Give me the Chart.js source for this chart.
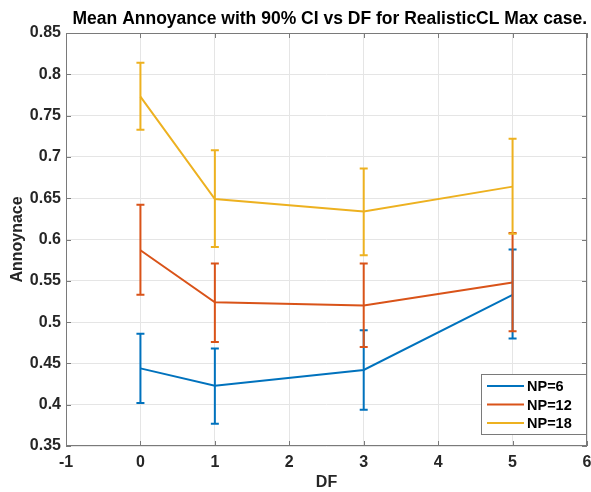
<!DOCTYPE html>
<html>
<head>
<meta charset="utf-8">
<script src="https://cdn.jsdelivr.net/npm/chart.js@4.4.1/dist/chart.umd.min.js"></script>
<style>
  html, body { margin: 0; padding: 0; background: #fff; }
  #wrap { width: 591px; height: 492px; }
</style>
</head>
<body>
<div id="wrap"><canvas id="c" width="591" height="492"></canvas></div>
<script>
// x positions (DF)
var dfValues = [0, 1, 3, 5];

// mean annoyance per series
var labels = ['NP=6', 'NP=12', 'NP=18'];
var meanNP6  = [0.444, 0.423, 0.442, 0.533];
var meanNP12 = [0.587, 0.524, 0.520, 0.548];
var meanNP18 = [0.773, 0.649, 0.634, 0.664];

// 90% CI bounds
var lowNP6   = [0.402, 0.377, 0.394, 0.480];
var highNP6  = [0.486, 0.468, 0.490, 0.588];
var lowNP12  = [0.533, 0.476, 0.470, 0.489];
var highNP12 = [0.642, 0.571, 0.571, 0.608];
var lowNP18  = [0.733, 0.591, 0.581, 0.607];
var highNP18 = [0.814, 0.708, 0.686, 0.722];

var xTicks = [-1, 0, 1, 2, 3, 4, 5, 6];
var yTicks = [0.35, 0.4, 0.45, 0.5, 0.55, 0.6, 0.65, 0.7, 0.75, 0.8, 0.85];

var colors = ['#0072BD', '#D95319', '#EDB120'];
var FONT = '"Liberation Sans", Arial, Helvetica, sans-serif';

var means = [meanNP6, meanNP12, meanNP18];
var lows = [lowNP6, lowNP12, lowNP18];
var highs = [highNP6, highNP12, highNP18];

function pts(arr) {
  return dfValues.map(function (x, i) { return { x: x, y: arr[i] }; });
}

var datasets = labels.map(function (lab, k) {
  return {
    label: lab,
    data: pts(means[k]),
    borderColor: colors[k],
    backgroundColor: colors[k],
    borderWidth: 2,
    pointRadius: 0,
    showLine: true,
    tension: 0
  };
});

// error bars + inward ticks + box + legend, MATLAB style
var matlabBits = {
  id: 'matlabBits',
  afterDatasetsDraw: function (chart) {
    var ctx = chart.ctx, x = chart.scales.x, y = chart.scales.y;
    ctx.save();
    ctx.lineWidth = 2;
    for (var k = 0; k < labels.length; k++) {
      ctx.strokeStyle = colors[k];
      for (var i = 0; i < dfValues.length; i++) {
        var px = x.getPixelForValue(dfValues[i]);
        var pl = y.getPixelForValue(lows[k][i]);
        var ph = y.getPixelForValue(highs[k][i]);
        ctx.beginPath();
        ctx.moveTo(px, pl); ctx.lineTo(px, ph);
        ctx.moveTo(px - 4, pl); ctx.lineTo(px + 4, pl);
        ctx.moveTo(px - 4, ph); ctx.lineTo(px + 4, ph);
        ctx.stroke();
      }
    }
    ctx.restore();
  },
  afterDraw: function (chart) {
    var ctx = chart.ctx, a = chart.chartArea, x = chart.scales.x, y = chart.scales.y;
    ctx.save();
    // box
    ctx.strokeStyle = '#7a7a7a';
    ctx.lineWidth = 1;
    ctx.strokeRect(a.left + 0.5, a.top + 0.5, a.right - a.left - 1, a.bottom - a.top - 1);
    // inward ticks
    ctx.beginPath();
    xTicks.forEach(function (v) {
      var p = Math.round(x.getPixelForValue(v)) + 0.5;
      ctx.moveTo(p, a.bottom); ctx.lineTo(p, a.bottom - 5);
      ctx.moveTo(p, a.top); ctx.lineTo(p, a.top + 5);
    });
    yTicks.forEach(function (v) {
      var p = Math.round(y.getPixelForValue(v)) + 0.5;
      ctx.moveTo(a.left, p); ctx.lineTo(a.left + 5, p);
      ctx.moveTo(a.right, p); ctx.lineTo(a.right - 5, p);
    });
    ctx.stroke();

    // legend
    var lx = 481, ly = 374, lw = 105, lh = 60;
    ctx.fillStyle = '#fff';
    ctx.fillRect(lx, ly, lw, lh);
    ctx.strokeStyle = '#7a7a7a';
    ctx.strokeRect(lx + 0.5, ly + 0.5, lw, lh);
    ctx.font = 'bold 14.5px ' + FONT;
    ctx.textBaseline = 'middle';
    ctx.textAlign = 'left';
    for (var k = 0; k < labels.length; k++) {
      var ry = ly + 12 + k * 18.5;
      ctx.strokeStyle = colors[k];
      ctx.lineWidth = 2;
      ctx.beginPath();
      ctx.moveTo(487, ry); ctx.lineTo(524, ry);
      ctx.stroke();
      ctx.fillStyle = '#000';
      ctx.fillText(labels[k], 527, ry + 1);
    }
    ctx.restore();
  }
};

new Chart(document.getElementById('c'), {
  type: 'scatter',
  data: { datasets: datasets },
  options: {
    responsive: false,
    animation: false,
    layout: { padding: { right: 4, left: 0, bottom: 0 } },
    plugins: {
      legend: { display: false },
      tooltip: { enabled: false },
      title: {
        display: true,
        align: 'end',
        text: 'Mean Annoyance with 90% CI vs DF for RealisticCL Max case.',
        color: '#000',
        font: { family: FONT, size: 17.5, weight: 'bold' },
        padding: { top: 9, bottom: 3 }
      }
    },
    scales: {
      x: {
        type: 'linear',
        min: -1, max: 6,
        afterBuildTicks: function (s) { s.ticks = xTicks.map(function (v) { return { value: v }; }); },
        afterFit: function (s) { s.height = 46; s.paddingLeft = 0; s.paddingRight = 0; },
        grid: { color: '#e5e5e5', drawTicks: false, tickLength: 0 },
        border: { display: false },
        ticks: { color: '#262626', padding: 7, font: { family: FONT, size: 16, weight: 'bold' } },
        title: { display: true, text: 'DF', color: '#262626', padding: { top: 1, bottom: 0 },
                 font: { family: FONT, size: 16, weight: 'bold' } }
      },
      y: {
        type: 'linear',
        min: 0.35, max: 0.85,
        afterBuildTicks: function (s) { s.ticks = yTicks.map(function (v) { return { value: v }; }); },
        afterFit: function (s) { s.width = 66; s.paddingTop = 0; s.paddingBottom = 0; },
        grid: { color: '#e5e5e5', drawTicks: false, tickLength: 0 },
        border: { display: false },
        ticks: { color: '#262626', padding: 5, font: { family: FONT, size: 16, weight: 'bold' },
                 callback: function (v) { return String(Math.round(v * 100) / 100); } },
        title: { display: true, text: 'Annoynace', color: '#262626', padding: { top: 8, bottom: 0 },
                 font: { family: FONT, size: 16, weight: 'bold' } }
      }
    }
  },
  plugins: [matlabBits]
});
</script>
</body>
</html>
